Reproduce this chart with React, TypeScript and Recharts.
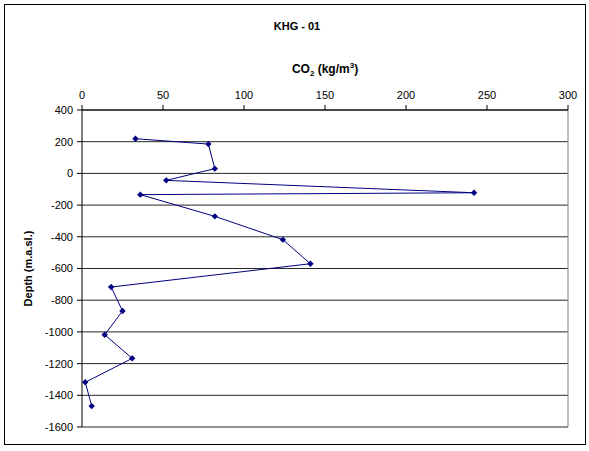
import React from 'react';
import {
  ScatterChart,
  Scatter,
  XAxis,
  YAxis,
  CartesianGrid,
  ReferenceLine,
} from 'recharts';

const CO2_VALUES = [33, 78, 82, 52, 242, 36, 82, 124, 141, 18, 25, 14, 31, 2, 6];
const DEPTHS = [219, 185, 30, -44, -122, -134, -271, -418, -570, -717, -868, -1018, -1167, -1318, -1468];
const X_TICKS = [0, 50, 100, 150, 200, 250, 300];
const Y_TICKS = [-1600, -1400, -1200, -1000, -800, -600, -400, -200, 0, 200, 400];

const data = CO2_VALUES.map((co2, i) => ({ co2, depth: DEPTHS[i] }));

const FONT = 'Arial, "Liberation Sans", sans-serif';
const tickStyle = { fill: '#000', fontSize: 11, fontFamily: FONT };

// small diamond like the excel marker
const Diamond = (props: any) => {
  const { cx, cy } = props;
  if (cx == null || cy == null) return null;
  const r = 3.2;
  return (
    <path
      d={`M${cx},${cy - r}L${cx + r},${cy}L${cx},${cy + r}L${cx - r},${cy}Z`}
      fill="#000080"
    />
  );
};

export default function App() {
  return (
    <div style={{ position: 'absolute', left: 0, top: 0, width: 589, height: 451, background: '#fff' }}>
      <div
        style={{
          position: 'absolute',
          left: 4,
          top: 4,
          width: 580,
          height: 439,
          border: '1px solid #000',
        }}
      />
      <div
        style={{
          position: 'absolute',
          left: 0,
          width: 594,
          top: 20,
          textAlign: 'center',
          fontFamily: FONT,
          fontSize: 11,
          fontWeight: 'bold',
        }}
      >
        KHG - 01
      </div>
      <div
        style={{
          position: 'absolute',
          left: 240,
          width: 170,
          top: 61,
          textAlign: 'center',
          fontFamily: FONT,
          fontSize: 12,
          fontWeight: 'bold',
        }}
      >
        CO<sub style={{ fontSize: 8 }}>2</sub> (kg/m<sup style={{ fontSize: 8 }}>3</sup>)
      </div>
      <div style={{ position: 'absolute', left: 0, top: 0 }}>
        <ScatterChart width={589} height={451} margin={{ top: 80, right: 21, bottom: 24, left: 22 }}>
          <CartesianGrid horizontal vertical={false} stroke="#000" strokeOpacity={0.85} />
          <XAxis
            type="number"
            dataKey="co2"
            orientation="top"
            domain={[0, 300]}
            ticks={X_TICKS}
            height={30}
            tick={tickStyle}
            tickSize={5}
            tickMargin={6}
            axisLine={{ stroke: '#000' }}
            tickLine={{ stroke: '#000' }}
          />
          <YAxis
            type="number"
            dataKey="depth"
            domain={[-1600, 400]}
            ticks={Y_TICKS}
            width={60}
            tick={tickStyle}
            tickSize={5}
            tickMargin={4}
            axisLine={{ stroke: '#000' }}
            tickLine={{ stroke: '#000' }}
            label={{
              value: 'Depth (m.a.sl.)',
              angle: -90,
              position: 'insideLeft',
              offset: 6,
              style: { fontFamily: FONT, fontSize: 11, fontWeight: 'bold', fill: '#000', textAnchor: 'middle' },
            }}
          />
          <ReferenceLine x={300} stroke="#808080" />
          <Scatter
            data={data}
            line={{ stroke: '#000080', strokeWidth: 1 }}
            shape={<Diamond />}
            isAnimationActive={false}
          />
        </ScatterChart>
      </div>
    </div>
  );
}
